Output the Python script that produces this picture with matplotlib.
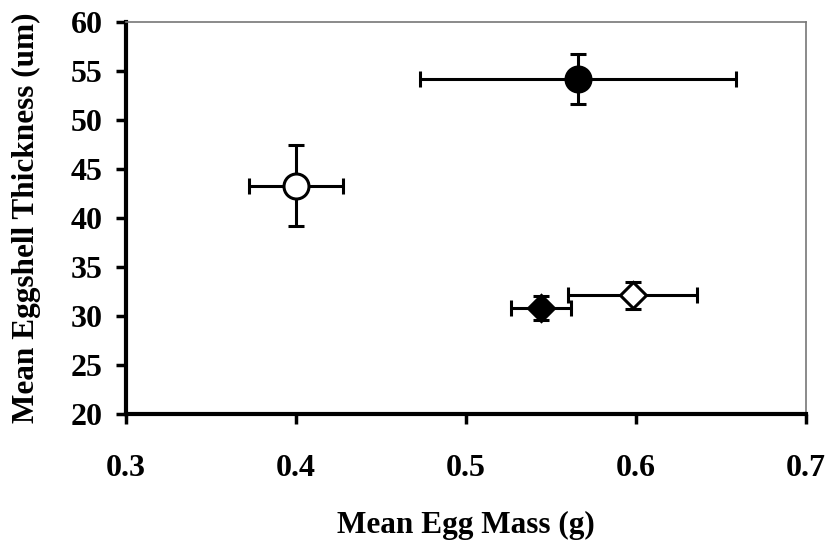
import matplotlib
matplotlib.use("Agg")
import matplotlib.pyplot as plt

# Mean egg mass (g) and eggshell thickness (um) with error half-widths
egg_mass = [0.566, 0.400, 0.544, 0.598]
mass_err = [0.093, 0.0275, 0.0175, 0.038]
shell_thickness = [54.2, 43.3, 30.8, 32.1]
thickness_err = [2.55, 4.15, 1.2, 1.4]
markers = ["o", "o", "D", "D"]
filled = [True, False, True, False]

x_ticks = [0.3, 0.4, 0.5, 0.6, 0.7]
y_ticks = [20, 25, 30, 35, 40, 45, 50, 55, 60]

plt.rcParams["font.family"] = ["Liberation Serif", "DejaVu Serif"]
plt.rcParams["font.weight"] = "bold"

fig = plt.figure(figsize=(8.30, 5.44), dpi=100)
ax = fig.add_axes([0.152, 0.239, 0.819, 0.7206])

for x, xe, y, ye, m, f in zip(egg_mass, mass_err, shell_thickness,
                              thickness_err, markers, filled):
    ms = 18 if m == "o" else 13
    ax.errorbar(x, y, xerr=xe, yerr=ye, fmt=m, ms=ms,
                mfc="black" if f else "white", mec="black", mew=2.2,
                ecolor="black", elinewidth=2.2, capsize=6, capthick=2.2,
                zorder=3)

ax.set_xlim(0.3, 0.7)
ax.set_ylim(20, 60)
ax.set_xticks(x_ticks)
ax.set_yticks(y_ticks)
ax.set_xticklabels([f"{v:.1f}" for v in x_ticks], fontsize=23, fontweight="bold")
ax.set_yticklabels([str(v) for v in y_ticks], fontsize=23, fontweight="bold")
ax.tick_params(axis="both", direction="out", length=7, width=2.5, color="black")
ax.tick_params(axis="x", pad=22)
ax.tick_params(axis="y", pad=10)

for side in ("left", "bottom"):
    ax.spines[side].set_linewidth(3)
    ax.spines[side].set_color("black")
for side in ("top", "right"):
    ax.spines[side].set_linewidth(1.2)
    ax.spines[side].set_color("#777777")

ax.set_xlabel("Mean Egg Mass (g)", fontsize=22.5, fontweight="bold", labelpad=20)
ax.set_ylabel("Mean Eggshell Thickness (um)", fontsize=22.5, fontweight="bold", labelpad=21)

fig.savefig("out.png", dpi=100, facecolor="white")
